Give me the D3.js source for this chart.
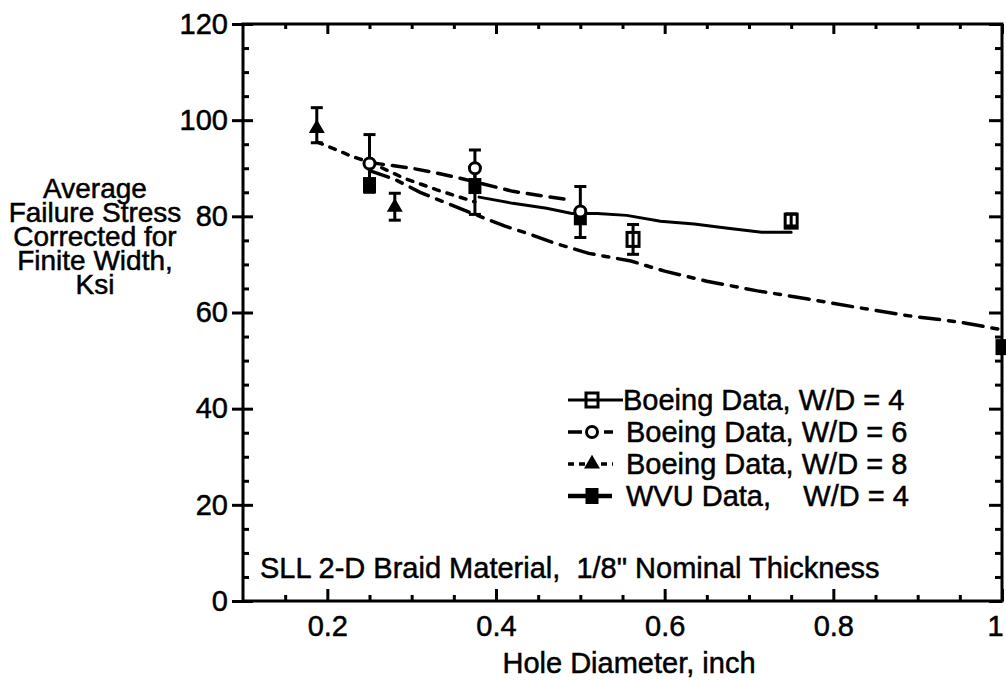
<!DOCTYPE html>
<html>
<head>
<meta charset="utf-8">
<script src="https://cdn.jsdelivr.net/npm/d3@7/dist/d3.min.js"></script>
<style>
  body { margin: 0; background: #fff; }
  svg text { font-family: "Liberation Sans", Arial, Helvetica, sans-serif; fill: #000; stroke: #000; stroke-width: 0.5px; }
</style>
</head>
<body>
<div class="viz"></div>
<script>
// tick values
const xMajor = [0.2, 0.4, 0.6, 0.8, 1.0];
const xMajorLabels = ["0.2", "0.4", "0.6", "0.8", "1"];
const xMinor = [0.15, 0.25, 0.3, 0.35, 0.45, 0.5, 0.55, 0.65, 0.7, 0.75, 0.85, 0.9, 0.95];
const yMajor = [0, 20, 40, 60, 80, 100, 120];
const yMinor = [5, 10, 15, 25, 30, 35, 45, 50, 55, 65, 70, 75, 85, 90, 95, 105, 110, 115];

// test points, [x, y, low, high]
const boeing4 = [[0.5625, 75.2, 72.1, 78.3], [0.75, 79, 78, 80.5]];
const boeing6 = [[0.25, 91, 85, 97], [0.375, 90, 86.5, 93.8], [0.5, 81, 75.6, 86.2]];
const boeing8 = [[0.1875, 98.3, 95.3, 102.6], [0.28, 81.9, 79.2, 84.8]];
const wvu4 = [[0.25, 86.5, null, null], [0.375, 86.3, 80.4, 90], [0.5, 79.8, null, null], [1.0, 52.8, null, null]];

// prediction curves
const curve4 = [[0.38, 84], [0.42, 82.7], [0.46, 81.7], [0.49, 80.6], [0.52, 80.6], [0.555, 80.2],
  [0.595, 79], [0.635, 78.4], [0.675, 77.5], [0.715, 76.7], [0.75, 76.7]];
const curve6 = [[0.25, 91.2], [0.3, 90], [0.33, 89], [0.36, 87.8], [0.42, 85.2], [0.46, 84.1], [0.49, 83.4]];
const curve8 = [[0.1875, 95.5], [0.21, 93.9], [0.23, 92.4], [0.25, 91.3], [0.29, 88], [0.33, 85.5], [0.375, 83]];
const curveWvu = [[0.25, 89.5], [0.28, 87.7], [0.31, 85], [0.345, 82.5], [0.375, 80.4], [0.41, 78],
  [0.44, 76.3], [0.47, 74.4], [0.51, 72.3], [0.56, 70.7], [0.6, 68.6], [0.65, 66.5], [0.71, 64.5],
  [0.77, 62.8], [0.83, 61], [0.89, 59.3], [0.95, 58], [1.0, 56.4]];

const legendLabels = ["Boeing Data, W/D = 4", "Boeing Data, W/D = 6", "Boeing Data, W/D = 8", "WVU Data,    W/D = 4"];
const yTitle = ["Average", "Failure Stress", "Corrected for", "Finite Width,", "Ksi"];

var width = 1006, height = 680;
var plotL = 243, plotR = 1002, plotT = 24, plotB = 601;

var svg = d3.select('.viz').append('svg')
    .attr('width', width)
    .attr('height', height);

var x = d3.scaleLinear().domain([0.1, 1.0]).range([plotL, plotR]);
var y = d3.scaleLinear().domain([0, 120]).range([plotB, plotT]);

var fs = 29;

// frame
svg.append("rect")
    .attr("x", plotL).attr("y", plotT)
    .attr("width", plotR - plotL).attr("height", plotB - plotT)
    .attr("fill", "none").attr("stroke", "#000").attr("stroke-width", 3);

function styleAxis(g) {
    g.select(".domain").remove();
    g.selectAll("line").attr("stroke", "#000").attr("stroke-width", 3);
    g.selectAll("text").style("font-size", fs + "px").attr("font-family", null).attr("fill", null);
}

// bottom axis
var xb = svg.append("g").attr("transform", "translate(0," + plotB + ")")
    .call(d3.axisBottom(x).tickValues(xMajor).tickFormat((d, i) => xMajorLabels[i])
        .tickSize(-12).tickPadding(14))
    .call(styleAxis);
xb.selectAll(".tick text").filter(d => d === 1.0).attr("dx", "-7");
svg.append("g").attr("transform", "translate(0," + plotB + ")")
    .call(d3.axisBottom(x).tickValues(xMinor).tickFormat("").tickSize(-6))
    .call(styleAxis);

// top axis
svg.append("g").attr("transform", "translate(0," + plotT + ")")
    .call(d3.axisTop(x).tickValues(xMajor).tickFormat("").tickSize(-10))
    .call(styleAxis);
svg.append("g").attr("transform", "translate(0," + plotT + ")")
    .call(d3.axisTop(x).tickValues(xMinor).tickFormat("").tickSize(-5))
    .call(styleAxis);

// left axis, major ticks cross the line
var yl = svg.append("g").attr("transform", "translate(" + plotL + ",0)")
    .call(d3.axisLeft(y).tickValues(yMajor).tickSize(11).tickPadding(4))
    .call(styleAxis);
yl.selectAll(".tick").append("line").attr("x2", 10).attr("stroke", "#000").attr("stroke-width", 3);
svg.append("g").attr("transform", "translate(" + plotL + ",0)")
    .call(d3.axisLeft(y).tickValues(yMinor).tickFormat("").tickSize(-6))
    .call(styleAxis);

// right axis
svg.append("g").attr("transform", "translate(" + plotR + ",0)")
    .call(d3.axisRight(y).tickValues(yMajor).tickFormat("").tickSize(-13))
    .call(styleAxis);
svg.append("g").attr("transform", "translate(" + plotR + ",0)")
    .call(d3.axisRight(y).tickValues(yMinor).tickFormat("").tickSize(-7))
    .call(styleAxis);

// titles
svg.append("text")
    .attr("x", 629).attr("y", 673)
    .attr("text-anchor", "middle")
    .style("font-size", fs + "px")
    .text("Hole Diameter, inch");

svg.append("text")
    .attr("text-anchor", "middle")
    .style("font-size", "28px")
    .selectAll("tspan")
    .data(yTitle)
    .enter().append("tspan")
    .attr("x", 95)
    .attr("y", (d, i) => 198 + i * 24)
    .text(d => d);

svg.append("text")
    .attr("x", 260).attr("y", 578)
    .style("font-size", fs + "px")
    .style("white-space", "pre")
    .text("SLL 2-D Braid Material,  1/8\" Nominal Thickness");

// curves
var line = d3.line().x(d => x(d[0])).y(d => y(d[1]));
var curves = [
    {data: curve4, dash: null, w: 3},
    {data: curve6, dash: "14,9", w: 3.5},
    {data: curve8, dash: "6,8", w: 3.5},
    {data: curveWvu, dash: "20,9,6,9", w: 3.5}
];
svg.append("g").selectAll("path")
    .data(curves)
    .enter().append("path")
    .attr("d", d => line(d.data))
    .attr("fill", "none")
    .attr("stroke", "#000")
    .attr("stroke-width", d => d.w)
    .attr("stroke-dasharray", d => d.dash)
    .attr("stroke-linecap", "round");

// error bars
var allPts = boeing4.concat(boeing6, boeing8, wvu4).filter(d => d[2] !== null);
var eb = svg.append("g").attr("stroke", "#000").attr("stroke-width", 3);
allPts.forEach(function(d) {
    var cx = x(d[0]);
    eb.append("line").attr("x1", cx).attr("x2", cx).attr("y1", y(d[2])).attr("y2", y(d[3]));
    eb.append("line").attr("x1", cx - 6).attr("x2", cx + 6).attr("y1", y(d[2])).attr("y2", y(d[2]));
    eb.append("line").attr("x1", cx - 6).attr("x2", cx + 6).attr("y1", y(d[3])).attr("y2", y(d[3]));
});

// marker drawing
function marker(g, kind, cx, cy) {
    if (kind === "osq") {
        g.append("rect").attr("x", cx - 6).attr("y", cy - 7).attr("width", 12).attr("height", 14)
            .attr("fill", "none").attr("stroke", "#000").attr("stroke-width", 3);
    } else if (kind === "circ") {
        g.append("circle").attr("cx", cx).attr("cy", cy).attr("r", 5.5)
            .attr("fill", "#fff").attr("stroke", "#000").attr("stroke-width", 3);
    } else if (kind === "tri") {
        g.append("path").attr("d", d3.symbol(d3.symbolTriangle, 110)())
            .attr("transform", "translate(" + cx + "," + cy + ")").attr("fill", "#000");
    } else {
        g.append("rect").attr("x", cx - 6.5).attr("y", cy - 8).attr("width", 13).attr("height", 16)
            .attr("fill", "#000");
    }
}

var mk = svg.append("g");
wvu4.forEach(d => marker(mk, "sq", x(d[0]), y(d[1])));
boeing8.forEach(d => marker(mk, "tri", x(d[0]), y(d[1])));
boeing4.forEach(d => marker(mk, "osq", x(d[0]), y(d[1])));
boeing6.forEach(d => marker(mk, "circ", x(d[0]), y(d[1])));

// legend
var legend = [
    {kind: "osq", dash: null, w: 3, x2: 623},
    {kind: "circ", dash: "14,22,14", w: 3.5, x2: 613},
    {kind: "tri", dash: "6,5", w: 3.5, x2: 613},
    {kind: "sq", dash: null, w: 4.5, x2: 612}
];
var lg = svg.append("g");
legend.forEach(function(d, i) {
    var ly = 400 + i * 32;
    lg.append("line").attr("x1", 568).attr("x2", d.x2).attr("y1", ly).attr("y2", ly)
        .attr("stroke", "#000").attr("stroke-width", d.w).attr("stroke-dasharray", d.dash);
    marker(lg, d.kind, 592, ly);
    lg.append("text")
        .attr("x", i === 0 ? 623 : 626).attr("y", ly + 10)
        .style("font-size", fs + "px")
        .style("white-space", "pre")
        .text(legendLabels[i]);
});
</script>
</body>
</html>
